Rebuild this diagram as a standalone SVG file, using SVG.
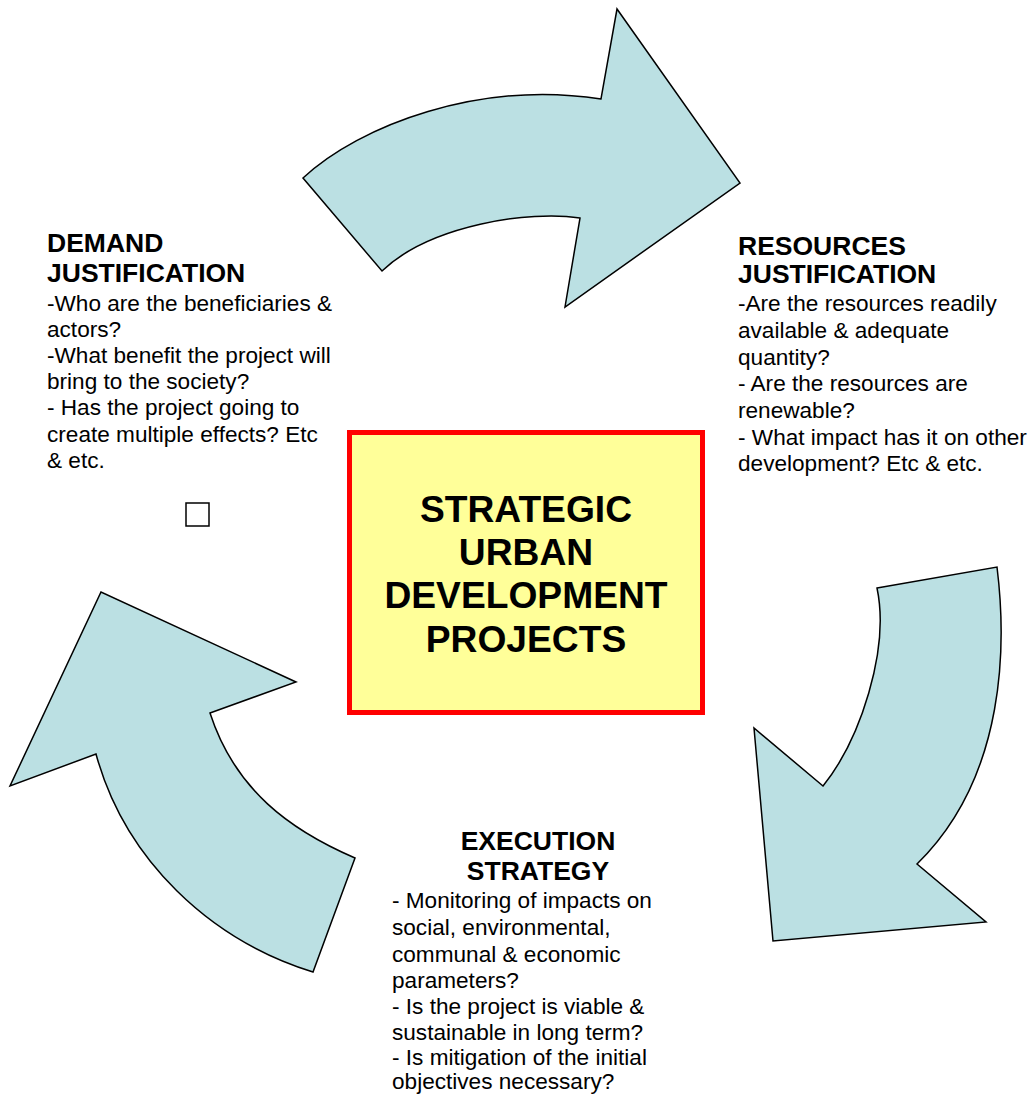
<svg xmlns="http://www.w3.org/2000/svg" width="1031" height="1095" viewBox="0 0 1031 1095">
<style>
.arrow{fill:#BBE0E3;stroke:#000;stroke-width:1.5;stroke-linejoin:miter}
.h{font-family:"Liberation Sans",Arial,sans-serif;font-weight:bold;font-size:26.5px;fill:#000}
.b{font-family:"Liberation Sans",Arial,sans-serif;font-size:22.6px;fill:#000}
.c{font-family:"Liberation Sans",Arial,sans-serif;font-weight:bold;font-size:37.2px;fill:#000;text-anchor:middle}
</style>
<rect width="1031" height="1095" fill="#fff"/>
<g id="connectors">
<path id="arrow-top" class="arrow" d="M303,178 C360,125 480,80 601,99 L617,9 L740,183 L565,307 L580,218 C530,210 430,225 382,271 Z"/>
<path id="arrow-right" class="arrow" d="M877,588 L997,567 C1006,640 1008,775 917,864 L986,922 L773,941 L754,728 L823,786 C860,740 890,650 877,588 Z"/>
<path id="arrow-left" class="arrow" d="M355,858 L313,972 C210,940 125,860 96,754 L10,786 L101,592 L296,682 L210,713 C235,790 290,830 355,858 Z"/>
</g>
<g id="center">
<rect x="349.5" y="432.5" width="353" height="280" fill="#FFFF99" stroke="#FF0000" stroke-width="5"/>
<text class="c" x="526" y="522">STRATEGIC</text>
<text class="c" x="526" y="565">URBAN</text>
<text class="c" x="526" y="608">DEVELOPMENT</text>
<text class="c" x="526" y="652">PROJECTS</text>
</g>
<g id="demand">
<text class="h" x="47" y="252">DEMAND</text>
<text class="h" x="47" y="282">JUSTIFICATION</text>
<text class="b" x="47" y="311">-Who are the beneficiaries &amp;</text>
<text class="b" x="47" y="337">actors?</text>
<text class="b" x="47" y="363">-What benefit the project will</text>
<text class="b" x="47" y="389">bring to the society?</text>
<text class="b" x="47" y="415">- Has the project going to</text>
<text class="b" x="47" y="442">create multiple effects? Etc</text>
<text class="b" x="47" y="468">&amp; etc.</text>
<rect x="186" y="503" width="23" height="23" fill="#fff" stroke="#000" stroke-width="1.5"/>
</g>
<g id="resources">
<text class="h" x="738" y="255">RESOURCES</text>
<text class="h" x="738" y="283">JUSTIFICATION</text>
<text class="b" x="738" y="311">-Are the resources readily</text>
<text class="b" x="738" y="338">available &amp; adequate</text>
<text class="b" x="738" y="365">quantity?</text>
<text class="b" x="738" y="391">- Are the resources are</text>
<text class="b" x="738" y="418">renewable?</text>
<text class="b" x="738" y="445">- What impact has it on other</text>
<text class="b" x="738" y="471">development? Etc &amp; etc.</text>
</g>
<g id="execution">
<text class="h" x="538" y="850" text-anchor="middle">EXECUTION</text>
<text class="h" x="538" y="880" text-anchor="middle">STRATEGY</text>
<text class="b" x="392" y="908">- Monitoring of impacts on</text>
<text class="b" x="392" y="935">social, environmental,</text>
<text class="b" x="392" y="962">communal &amp; economic</text>
<text class="b" x="392" y="988">parameters?</text>
<text class="b" x="392" y="1014">- Is the project is viable &amp;</text>
<text class="b" x="392" y="1040">sustainable in long term?</text>
<text class="b" x="392" y="1065">- Is mitigation of the initial</text>
<text class="b" x="392" y="1089">objectives necessary?</text>
</g>
</svg>
